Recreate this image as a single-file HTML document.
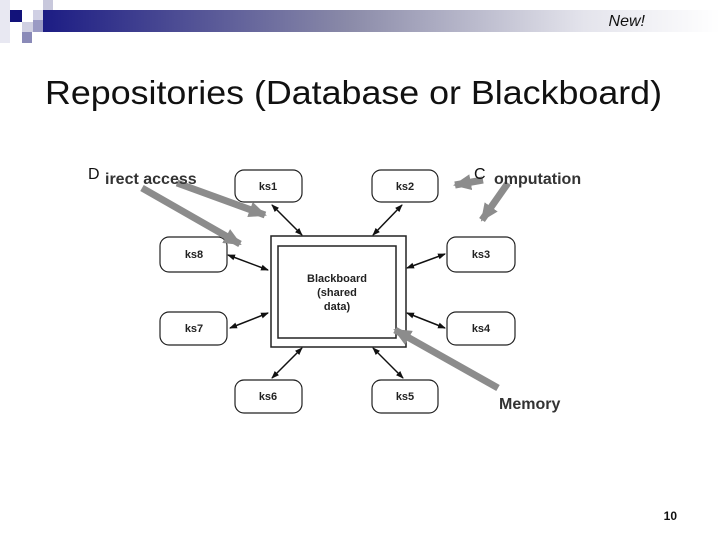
<!DOCTYPE html>
<html><head><style>
html,body{margin:0;padding:0;background:#fff;}
body{width:720px;height:540px;position:relative;overflow:hidden;font-family:"Liberation Sans",sans-serif;}
</style></head><body>
<svg width="720" height="540" viewBox="0 0 720 540" xmlns="http://www.w3.org/2000/svg" style="position:absolute;left:0;top:0">
<defs>
<linearGradient id="g" x1="0" x2="1" y1="0" y2="0">
<stop offset="0" stop-color="#1c1c84"/><stop offset="0.45" stop-color="#8a8aa8"/><stop offset="0.8" stop-color="#e4e4ec"/><stop offset="1" stop-color="#fff"/>
</linearGradient>
<marker id="a" markerWidth="8" markerHeight="8" refX="7" refY="4" orient="auto-start-reverse" markerUnits="userSpaceOnUse"><path d="M0,1 L8,4 L0,7z" fill="#111"/></marker>
<marker id="b" markerWidth="18" markerHeight="16" refX="16" refY="8" orient="auto" markerUnits="userSpaceOnUse"><path d="M0,0 L18,8 L0,16z" fill="#8c8c8c"/></marker>
</defs>
<rect x="43" y="10" width="677" height="22" fill="url(#g)"/>
<rect x="0" y="0" width="10" height="43" fill="#e8e8f2"/>
<rect x="10" y="10" width="12" height="12" fill="#12127a"/>
<rect x="43" y="0" width="10" height="10" fill="#c8c8dc"/>
<rect x="33" y="10" width="10" height="10" fill="#d0d0e4"/>
<rect x="22" y="22" width="11" height="10" fill="#d0d0e2"/>
<rect x="33" y="20" width="10" height="12" fill="#9a9ac4"/>
<rect x="22" y="32" width="10" height="11" fill="#8a8ab8"/>
<text x="645" y="26" font-size="16" font-style="italic" text-anchor="end" fill="#111">New!</text>
<text x="45" y="104" font-size="33" textLength="617" lengthAdjust="spacingAndGlyphs" fill="#111">Repositories (Database or Blackboard)</text>
<g fill="#fff" stroke="#222" stroke-width="1.2">
<rect x="235" y="170" width="67" height="32" rx="9"/>
<rect x="372" y="170" width="66" height="32" rx="9"/>
<rect x="160" y="237" width="67" height="35" rx="9"/>
<rect x="447" y="237" width="68" height="35" rx="9"/>
<rect x="160" y="312" width="67" height="33" rx="9"/>
<rect x="447" y="312" width="68" height="33" rx="9"/>
<rect x="235" y="380" width="67" height="33" rx="9"/>
<rect x="372" y="380" width="66" height="33" rx="9"/>
<rect x="271" y="236" width="135" height="111" stroke-width="1.5"/>
<rect x="278" y="246" width="118" height="92" stroke-width="1.5"/>
</g>
<g font-size="11" font-weight="bold" fill="#222" text-anchor="middle">
<text x="268" y="190">ks1</text><text x="405" y="190">ks2</text>
<text x="194" y="258">ks8</text><text x="481" y="258">ks3</text>
<text x="194" y="332">ks7</text><text x="481" y="332">ks4</text>
<text x="268" y="400">ks6</text><text x="405" y="400">ks5</text>
<text x="337" y="282">Blackboard</text><text x="337" y="296">(shared</text><text x="337" y="310">data)</text>
</g>
<g stroke="#111" stroke-width="1.5" marker-start="url(#a)" marker-end="url(#a)">
<line x1="272" y1="205" x2="302" y2="235"/>
<line x1="402" y1="205" x2="373" y2="235"/>
<line x1="228" y1="255" x2="268" y2="270"/>
<line x1="445" y1="254" x2="407" y2="268"/>
<line x1="230" y1="328" x2="268" y2="313"/>
<line x1="407" y1="313" x2="445" y2="328"/>
<line x1="302" y1="348" x2="272" y2="378"/>
<line x1="373" y1="348" x2="403" y2="378"/>
</g>
<g stroke="#8c8c8c" stroke-width="7" marker-end="url(#b)">
<line x1="142" y1="188" x2="240" y2="244"/>
<line x1="177" y1="183" x2="265" y2="215"/>
<line x1="483" y1="180" x2="455" y2="185"/>
<line x1="508" y1="183" x2="482" y2="220"/>
<line x1="498" y1="388" x2="395" y2="330"/>
</g>
<g font-size="16" fill="#111">
<text x="88" y="179">D</text><text x="474" y="179">C</text>
</g>
<g font-size="16" font-weight="bold" fill="#333">
<text x="105" y="184">irect access</text>
<text x="494" y="184">omputation</text>
<text x="499" y="409">Memory</text>
</g>
<text x="677" y="520" font-size="12" font-weight="bold" text-anchor="end" fill="#111">10</text>
</svg>
</body></html>
